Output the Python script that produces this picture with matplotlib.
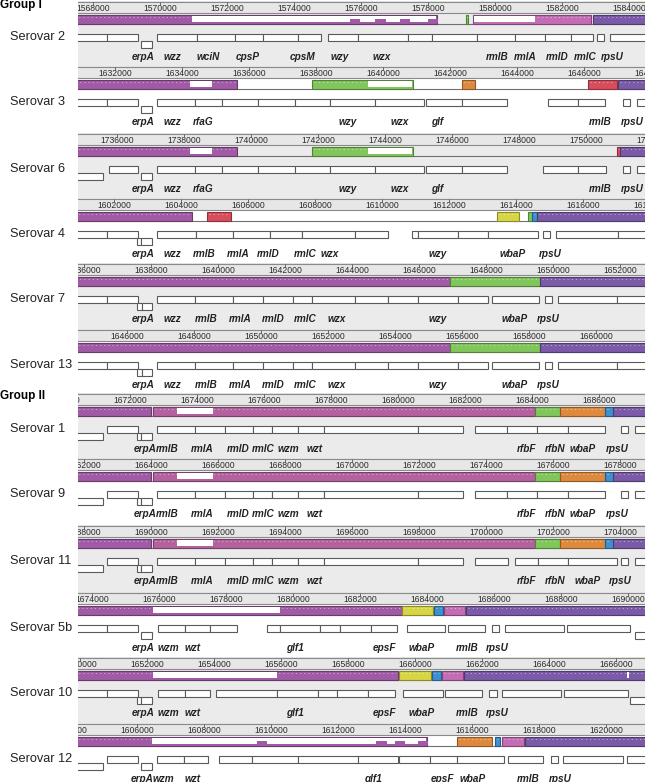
import matplotlib.pyplot as plt
from matplotlib.patches import Rectangle
from matplotlib.colors import to_rgb

plt.rcParams['font.family'] = ['Liberation Sans', 'DejaVu Sans']

W, H = 645, 782
X0 = 78          # px where the tracks start
SPAN = 16925     # bp shown in one panel

COLORS = {
    'purple': '#a05aa6', 'magenta': '#b4619f', 'pink': '#c36db4',
    'violet': '#7b5aa8', 'green': '#80c65a', 'orange': '#de8a3e',
    'blue': '#3f8fd2', 'yellow': '#d6d645', 'red': '#d84c5c',
}

# ---------------- data (bp) ----------------
# Serovar 2
s2_left = 1567550
s2_genes = [(1567000, 1568420, 1), (1568420, 1569340, 1), (1569430, 1569760, -1),
            (1569910, 1571100, 1), (1571100, 1572240, 1), (1572240, 1573070, 1),
            (1573070, 1574120, 1), (1574120, 1574800, 1), (1575010, 1575910, 1),
            (1575910, 1577400, 1), (1577400, 1578120, 1), (1578120, 1579460, 1),
            (1579460, 1580590, 1), (1580590, 1581490, 1), (1581490, 1582270, 1),
            (1582270, 1582920, 1), (1583040, 1583250, 1), (1583430, 1585000, 1)]
s2_names = ['erpA', 'wzz', 'wciN', 'cpsP', 'cpsM', 'wzy', 'wzx', 'rmlB', 'rmlA', 'rmlD', 'rmlC', 'rpsU']
s2_name_pos = [1569490, 1570360, 1571430, 1572630, 1574240, 1575370, 1576620,
               1580060, 1580890, 1581850, 1582680, 1583490]
s2_blocks = [(1567000, 1578270, 'purple'), (1579130, 1579200, 'green'),
             (1579340, 1582860, 'pink'), (1582920, 1585000, 'violet')]
s2_low = [(1570950, 1578230), (1579380, 1581190)]
s2_bumps = [1575820, 1576570, 1577310, 1578150]

# Serovar 3
s3_left = 1630900
s3_genes = [(1630400, 1631770, 1), (1631770, 1632690, 1), (1632780, 1633110, -1),
            (1633260, 1634390, 1), (1634390, 1635200, 1), (1635200, 1636270, 1),
            (1636270, 1637380, 1), (1637380, 1638420, 1), (1638420, 1639770, 1),
            (1639770, 1641230, 1), (1641290, 1642360, 1), (1642360, 1643710, 1),
            (1644930, 1645830, 1), (1645830, 1646630, 1), (1647170, 1647380, 1),
            (1647590, 1648500, 1)]
s3_names = ['erpA', 'wzz', 'rfaG', 'wzy', 'wzx', 'glf', 'rmlB', 'rpsU']
s3_name_pos = [1632840, 1633710, 1634630, 1638960, 1640510, 1641620, 1646480, 1647440]
s3_blocks = [(1630400, 1635650, 'purple'), (1637890, 1640900, 'green'),
             (1642360, 1642750, 'orange'), (1646120, 1646990, 'red'),
             (1647020, 1648500, 'violet')]
s3_low = [(1634240, 1634900), (1639560, 1640860)]
s3_bumps = []

# Serovar 6
s6_left = 1734840
s6_genes = [(1734300, 1735590, -1), (1735770, 1736630, 1), (1736720, 1737050, -1),
            (1737200, 1738330, 1), (1738330, 1739140, 1), (1739140, 1740210, 1),
            (1740210, 1741320, 1), (1741320, 1742360, 1), (1742360, 1743710, 1),
            (1743710, 1745170, 1), (1745230, 1746300, 1), (1746300, 1747650, 1),
            (1748720, 1749770, 1), (1749770, 1750600, 1), (1751110, 1751320, 1),
            (1751530, 1752500, 1)]
s6_names = ['erpA', 'wzz', 'rfaG', 'wzy', 'wzx', 'glf', 'rmlB', 'rpsU']
s6_name_pos = [1736780, 1737650, 1738570, 1742900, 1744450, 1745560, 1750420, 1751380]
s6_blocks = [(1734300, 1739590, 'purple'), (1741830, 1744840, 'green'),
             (1750930, 1751020, 'red'), (1751020, 1752500, 'violet')]
s6_low = [(1738180, 1738840), (1743500, 1744800)]
s6_bumps = []

# Serovar 4
s4_left = 1600930
s4_genes = [(1600400, 1601800, 1), (1601800, 1602720, 1), (1602690, 1602810, -1),
            (1602810, 1603140, -1), (1603290, 1604450, 1), (1604450, 1605560, 1),
            (1605560, 1606660, 1), (1606660, 1607620, 1), (1607620, 1609200, 1),
            (1609200, 1610180, 1), (1610900, 1611080, 1), (1611080, 1612270, 1),
            (1612270, 1613170, 1), (1613170, 1614660, 1), (1614810, 1615020, 1),
            (1615200, 1617050, 1), (1617050, 1618000, 1)]
s4_names = ['erpA', 'wzz', 'rmlB', 'rmlA', 'rmlD', 'rmlC', 'wzx', 'wzy', 'wbaP', 'rpsU']
s4_name_pos = [1602870, 1603740, 1604690, 1605710, 1606600, 1607710, 1608450,
               1611680, 1613890, 1615020]
s4_blocks = [(1600400, 1604330, 'purple'), (1604780, 1605500, 'red'),
             (1613440, 1614090, 'yellow'), (1614360, 1614480, 'green'),
             (1614480, 1614630, 'blue'), (1614630, 1618000, 'violet')]
s4_low = []
s4_bumps = []

# Serovar 7
s7_left = 1635820
s7_genes = [(1635300, 1636690, 1), (1636690, 1637610, 1), (1637580, 1637730, -1),
            (1637730, 1638030, -1), (1638180, 1639310, 1), (1639310, 1640450, 1),
            (1640450, 1641340, 1), (1641340, 1642240, 1), (1642240, 1642810, 1),
            (1642810, 1644090, 1), (1644090, 1645070, 1), (1645070, 1645970, 1),
            (1645970, 1647160, 1), (1647160, 1648060, 1), (1648180, 1649580, 1),
            (1649760, 1649970, 1), (1650150, 1651910, 1), (1651910, 1653000, 1)]
s7_names = ['erpA', 'wzz', 'rmlB', 'rmlA', 'rmlD', 'rmlC', 'wzx', 'wzy', 'wbaP', 'rpsU']
s7_name_pos = [1637760, 1638630, 1639640, 1640660, 1641640, 1642600, 1643550,
               1646570, 1648860, 1649850]
s7_blocks = [(1635300, 1646920, 'purple'), (1646920, 1649610, 'green'),
             (1649610, 1653000, 'violet')]
s7_low = []
s7_bumps = []

# Serovar 13
s13_left = 1644540
s13_genes = [(1644000, 1645410, 1), (1645410, 1646330, 1), (1646300, 1646450, -1),
             (1646450, 1646750, -1), (1646900, 1648030, 1), (1648030, 1649170, 1),
             (1649170, 1650060, 1), (1650060, 1650960, 1), (1650960, 1651530, 1),
             (1651530, 1652810, 1), (1652810, 1653790, 1), (1653790, 1654690, 1),
             (1654690, 1655880, 1), (1655880, 1656780, 1), (1656900, 1658300, 1),
             (1658480, 1658690, 1), (1658870, 1660630, 1), (1660630, 1662000, 1)]
s13_names = ['erpA', 'wzz', 'rmlB', 'rmlA', 'rmlD', 'rmlC', 'wzx', 'wzy', 'wbaP', 'rpsU']
s13_name_pos = [1646480, 1647350, 1648360, 1649380, 1650360, 1651320, 1652270,
                1655290, 1657580, 1658570]
s13_blocks = [(1644000, 1655640, 'purple'), (1655640, 1658330, 'green'),
              (1658330, 1662000, 'violet')]
s13_low = []
s13_bumps = []

# Serovar 1
s1_left = 1670450
s1_genes = [(1669900, 1671200, -1), (1671320, 1672240, 1), (1672210, 1672330, -1),
            (1672330, 1672660, -1), (1672810, 1673940, 1), (1673940, 1674840, 1),
            (1674840, 1675670, 1), (1675670, 1676240, 1), (1676240, 1677020, 1),
            (1677020, 1677790, 1), (1677790, 1680600, 1), (1680600, 1681940, 1),
            (1682300, 1683260, 1), (1683260, 1684150, 1), (1684150, 1685080, 1),
            (1685080, 1686180, 1), (1686660, 1686870, 1), (1687080, 1688000, 1)]
s1_names = ['erpA', 'rmlB', 'rmlA', 'rmlD', 'rmlC', 'wzm', 'wzt', 'rfbF', 'rfbN', 'wbaP', 'rpsU']
s1_name_pos = [1672450, 1673110, 1674150, 1675230, 1675970, 1676720, 1677520,
               1683850, 1684690, 1685520, 1686540]
s1_blocks = [(1669900, 1672630, 'purple'), (1672690, 1684090, 'magenta'),
             (1684090, 1684840, 'green'), (1684840, 1686180, 'orange'),
             (1686180, 1686420, 'blue'), (1686420, 1688000, 'violet')]
s1_low = [(1673400, 1674480)]
s1_bumps = []

# Serovar 9
s9_left = 1661820
s9_genes = [(1661270, 1662570, -1), (1662690, 1663610, 1), (1663580, 1663700, -1),
            (1663700, 1664030, -1), (1664180, 1665310, 1), (1665310, 1666210, 1),
            (1666210, 1667040, 1), (1667040, 1667610, 1), (1667610, 1668390, 1),
            (1668390, 1669160, 1), (1669160, 1671970, 1), (1671970, 1673310, 1),
            (1673670, 1674630, 1), (1674630, 1675520, 1), (1675520, 1676450, 1),
            (1676450, 1677550, 1), (1678030, 1678240, 1), (1678450, 1679400, 1)]
s9_names = ['erpA', 'rmlB', 'rmlA', 'rmlD', 'rmlC', 'wzm', 'wzt', 'rfbF', 'rfbN', 'wbaP', 'rpsU']
s9_name_pos = [1663820, 1664480, 1665520, 1666600, 1667340, 1668090, 1668890,
               1675220, 1676060, 1676890, 1677910]
s9_blocks = [(1661270, 1664000, 'purple'), (1664060, 1675460, 'magenta'),
             (1675460, 1676210, 'green'), (1676210, 1677550, 'orange'),
             (1677550, 1677790, 'blue'), (1677790, 1679400, 'violet')]
s9_low = [(1664780, 1665850)]
s9_bumps = []

# Serovar 11
s11_left = 1687820
s11_genes = [(1687270, 1688570, -1), (1688690, 1689610, 1), (1689580, 1689700, -1),
             (1689700, 1690030, -1), (1690180, 1691310, 1), (1691310, 1692210, 1),
             (1692210, 1693040, 1), (1693040, 1693610, 1), (1693610, 1694390, 1),
             (1694390, 1695160, 1), (1695160, 1697970, 1), (1697970, 1699310, 1),
             (1699670, 1700660, 1), (1700860, 1701550, 1), (1701550, 1702450, 1),
             (1702450, 1703910, 1), (1704030, 1704240, 1), (1704450, 1705500, 1)]
s11_names = ['erpA', 'rmlB', 'rmlA', 'rmlD', 'rmlC', 'wzm', 'wzt', 'rfbF', 'rfbN', 'wbaP', 'rpsU']
s11_name_pos = [1689820, 1690480, 1691520, 1692600, 1693340, 1694090, 1694890,
                1701220, 1702060, 1703040, 1704000]
s11_blocks = [(1687270, 1690000, 'purple'), (1690060, 1701460, 'magenta'),
              (1701460, 1702210, 'green'), (1702210, 1703550, 'orange'),
              (1703550, 1703790, 'blue'), (1703790, 1705500, 'violet')]
s11_low = [(1690780, 1691850)]
s11_bumps = []

# Serovar 5b
s5b_left = 1673580
s5b_genes = [(1673000, 1674450, 1), (1674450, 1675370, 1), (1675460, 1675790, -1),
             (1675970, 1676770, 1), (1676770, 1677520, 1), (1677520, 1678330, 1),
             (1679220, 1679610, 1), (1679610, 1680800, 1), (1680800, 1681400, 1),
             (1681400, 1682330, 1), (1682330, 1683100, 1), (1683400, 1684540, 1),
             (1684630, 1685730, 1), (1685940, 1686150, 1), (1686330, 1688090, 1),
             (1688180, 1690060, 1), (1690210, 1691000, -1)]
s5b_names = ['erpA', 'wzm', 'wzt', 'glf1', 'epsF', 'wbaP', 'rmlB', 'rpsU']
s5b_name_pos = [1675520, 1676270, 1677010, 1680060, 1682740, 1683850, 1685190, 1686090]
s5b_blocks = [(1673000, 1683250, 'purple'), (1683250, 1684180, 'yellow'),
              (1684210, 1684480, 'blue'), (1684500, 1685130, 'pink'),
              (1685160, 1691000, 'violet')]
s5b_low = [(1675820, 1679610)]
s5b_bumps = []

# Serovar 10
s10_left = 1649940
s10_genes = [(1649400, 1650810, 1), (1650810, 1651730, 1), (1651700, 1651820, -1),
             (1651820, 1652150, -1), (1652330, 1653130, 1), (1653130, 1653880, 1),
             (1654060, 1655880, 1), (1655880, 1657100, 1), (1657100, 1657670, 1),
             (1657670, 1658600, 1), (1658600, 1659400, 1), (1659640, 1660840, 1),
             (1660900, 1662000, 1), (1662210, 1662450, 1), (1662600, 1664360, 1),
             (1664450, 1666360, 1), (1666420, 1667500, -1)]
s10_names = ['erpA', 'wzm', 'wzt', 'glf1', 'epsF', 'wbaP', 'rmlB', 'rpsU']
s10_name_pos = [1651880, 1652630, 1653370, 1656420, 1659100, 1660210, 1661550, 1662450]
s10_blocks = [(1649400, 1659490, 'purple'), (1659520, 1660480, 'yellow'),
              (1660510, 1660780, 'blue'), (1660810, 1661430, 'pink'),
              (1661460, 1667500, 'violet')]
s10_low = [(1652180, 1655880), (1666340, 1666380)]
s10_bumps = []

# Serovar 12
s12_left = 1604240
s12_genes = [(1603700, 1604990, -1), (1605110, 1606030, 1), (1606120, 1606450, -1),
             (1606600, 1607400, 1), (1607400, 1608120, 1), (1608450, 1609430, 1),
             (1609430, 1610810, 1), (1610810, 1612600, 1), (1612600, 1613790, 1),
             (1613820, 1614750, 1), (1614750, 1615550, 1), (1615550, 1616960, 1),
             (1617080, 1618120, 1), (1618360, 1618570, 1), (1618720, 1620510, 1),
             (1620630, 1621500, 1)]
s12_names = ['erpA', 'wzm', 'wzt', 'glf1', 'epsF', 'wbaP', 'rmlB', 'rpsU']
s12_name_pos = [1606150, 1606780, 1607670, 1613050, 1615110, 1616030, 1617670, 1618630]
s12_blocks = [(1603700, 1614660, 'purple'), (1615550, 1616600, 'orange'),
              (1616690, 1616840, 'blue'), (1616900, 1617550, 'pink'),
              (1617580, 1621500, 'violet')]
s12_low = [(1606450, 1614620)]
s12_bumps = [1609730, 1613310, 1613850, 1614540]

# label, top px, grey background, data
panels = [
    ('Serovar 2', 1, True, s2_left, s2_genes, s2_names, s2_name_pos, s2_blocks, s2_low, s2_bumps),
    ('Serovar 3', 66, False, s3_left, s3_genes, s3_names, s3_name_pos, s3_blocks, s3_low, s3_bumps),
    ('Serovar 6', 133, True, s6_left, s6_genes, s6_names, s6_name_pos, s6_blocks, s6_low, s6_bumps),
    ('Serovar 4', 198, False, s4_left, s4_genes, s4_names, s4_name_pos, s4_blocks, s4_low, s4_bumps),
    ('Serovar 7', 263, True, s7_left, s7_genes, s7_names, s7_name_pos, s7_blocks, s7_low, s7_bumps),
    ('Serovar 13', 329, False, s13_left, s13_genes, s13_names, s13_name_pos, s13_blocks, s13_low, s13_bumps),
    ('Serovar 1', 393, True, s1_left, s1_genes, s1_names, s1_name_pos, s1_blocks, s1_low, s1_bumps),
    ('Serovar 9', 458, False, s9_left, s9_genes, s9_names, s9_name_pos, s9_blocks, s9_low, s9_bumps),
    ('Serovar 11', 525, True, s11_left, s11_genes, s11_names, s11_name_pos, s11_blocks, s11_low, s11_bumps),
    ('Serovar 5b', 592, False, s5b_left, s5b_genes, s5b_names, s5b_name_pos, s5b_blocks, s5b_low, s5b_bumps),
    ('Serovar 10', 657, True, s10_left, s10_genes, s10_names, s10_name_pos, s10_blocks, s10_low, s10_bumps),
    ('Serovar 12', 723, False, s12_left, s12_genes, s12_names, s12_name_pos, s12_blocks, s12_low, s12_bumps),
]


def darker(c, f=0.65):
    r, g, b = to_rgb(c)
    return (r * f, g * f, b * f)


fig = plt.figure(figsize=(W / 100, H / 100), dpi=100)

tops = [p[1] for p in panels] + [H]
for i, (label, top, grey, left, genes, names, name_pos, blocks, low, bumps) in enumerate(panels):
    h = tops[i + 1] - top
    ax = fig.add_axes([X0 / W, 1 - (top + h) / H, (W - X0) / W, h / H])
    ax.set_xlim(left, left + SPAN)
    ax.set_ylim(h, 0)
    ax.axis('off')

    # backgrounds
    ax.axhspan(12, h, color='#ebebeb' if grey else 'white', lw=0, zorder=0)
    ax.axhspan(0, 12, color='#e7e7e7', lw=0, zorder=0)
    ax.axhline(0.6, color='#8a8a8a', lw=0.8, zorder=1)
    ax.axhline(12, color='#8a8a8a', lw=0.8, zorder=1)

    # ruler (labels only where at least part of them is visible)
    t = (left // 2000) * 2000
    while t < left + SPAN + 1000:
        if t > left - 900:
            ax.text(t, 7.2, str(t), ha='center', va='center', fontsize=6.2,
                    color='#2a2a2a', clip_on=True, zorder=2)
            ax.vlines(t, 1, 4, color='#555555', lw=0.6, zorder=2)
        t += 2000

    # alignment blocks
    ax.axhline(23, color='#707070', lw=0.8, zorder=1)
    for s, e, c in blocks:
        ax.add_patch(Rectangle((s, 14), e - s, 9, facecolor=COLORS[c],
                               edgecolor=darker(COLORS[c]), lw=0.8, zorder=3))
        ax.hlines(15.8, s + 60, e - 60, color='white', lw=0.6, alpha=0.55,
                  linestyles=(0, (1.5, 3.5)), zorder=3.5)
    for s, e in low:
        ax.add_patch(Rectangle((s, 14.8), e - s, 6.6, facecolor='white',
                               lw=0, zorder=4))
    for b in bumps:
        ax.add_patch(Rectangle((b - 160, 18), 320, 4, facecolor=COLORS['purple'],
                               lw=0, zorder=5))

    # genes
    for s, e, strand in genes:
        y0 = 33 if strand > 0 else 40
        ax.add_patch(Rectangle((s, y0), e - s, 7, facecolor='white',
                               edgecolor='#5a5a5a', lw=0.8, zorder=3))
    for n, x in zip(names, name_pos):
        ax.text(x, 56, n, ha='center', va='center', fontsize=7.2,
                fontweight='bold', fontstyle='italic', color='#222222', zorder=3)

    fig.text(10 / W, 1 - (top + 36) / H, label, ha='left', va='center',
             fontsize=9.2, color='#222222')

fig.text(0, 1 - 5 / H, 'Group I', ha='left', va='center', fontsize=8.5,
         fontweight='bold')
fig.text(0, 1 - 396 / H, 'Group II', ha='left', va='center', fontsize=8.5,
         fontweight='bold')

fig.savefig('out.png', dpi=100)
